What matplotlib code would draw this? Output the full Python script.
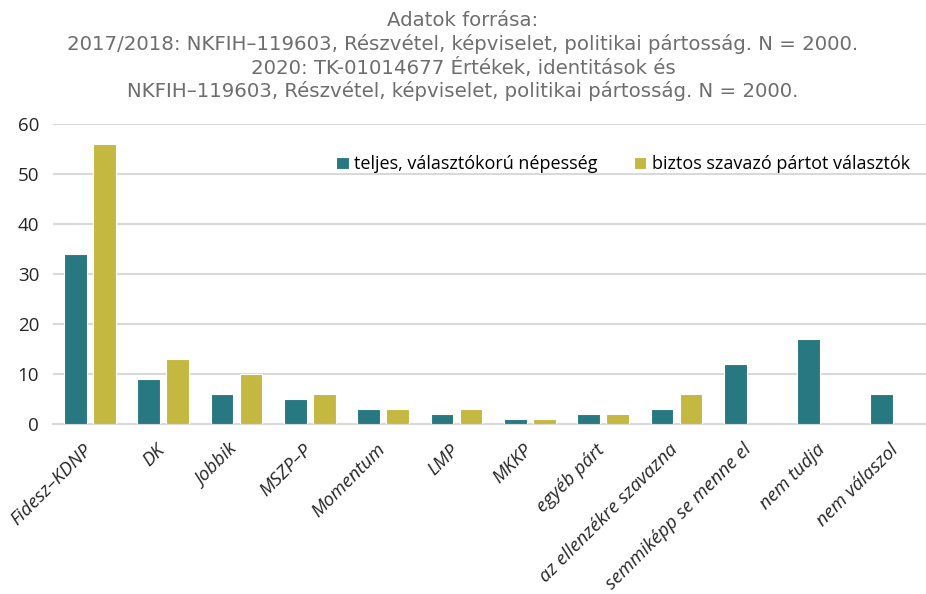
import numpy as np
from matplotlib import pyplot as plt

# Categories and shares (%)
categories = ['Fidesz–KDNP', 'DK', 'Jobbik', 'MSZP–P', 'Momentum', 'LMP', 'MKKP',
              'egyéb párt', 'az ellenzékre szavazna', 'semmiképp se menne el',
              'nem tudja', 'nem válaszol']
total_pop = [34, 9, 6, 5, 3, 2, 1, 2, 3, 12, 17, 6]
sure_voters = [56, 13, 10, 6, 3, 3, 1, 2, 6, 0, 0, 0]

title_lines = ['Adatok forrása:',
               '2017/2018: NKFIH–119603, Részvétel, képviselet, politikai pártosság. N = 2000.',
               '2020: TK-01014677 Értékek, identitások és',
               'NKFIH–119603, Részvétel, képviselet, politikai pártosság. N = 2000.']

teal = '#287882'
gold = '#C5B840'

fig = plt.figure(figsize=(9.26, 5.94), dpi=100)
ax = fig.add_axes([53 / 926, 1 - 424 / 594, 873 / 926, 300 / 594])

x = np.arange(len(categories))
width = 0.31
offset = 0.198

ax.bar(x - offset, total_pop, width=width, color=teal, edgecolor='white',
       linewidth=0.8, label='teljes, választókorú népesség', zorder=3)
# last three groups have no second bar
sv = np.array(sure_voters, dtype=float)
mask = sv > 0
ax.bar(x[mask] + offset, sv[mask], width=width, color=gold, edgecolor='white',
       linewidth=0.8, label='biztos szavazó pártot választók', zorder=3)

ax.set_xlim(-0.505, 11.405)
ax.set_ylim(0, 60)
ax.set_yticks(range(0, 61, 10))
ax.grid(axis='y', color='#d9d9d9', linewidth=1.5, zorder=0)
ax.set_axisbelow(True)
for s in ['top', 'right', 'left']:
    ax.spines[s].set_visible(False)
ax.spines['bottom'].set_color('#d9d9d9')
ax.spines['bottom'].set_linewidth(1.5)

ax.set_xticks(x - 0.1)
ax.set_xticklabels(categories, rotation=45, ha='right', va='top', rotation_mode='anchor',
                   fontstyle='italic', fontsize=13.5, color='#262626', family='Open Sans')
ax.tick_params(axis='x', length=0, pad=12)
ax.tick_params(axis='y', length=0, pad=10, labelsize=13.5, labelcolor='#262626')
for lbl in ax.get_yticklabels():
    lbl.set_family('Open Sans')

ax.legend(loc='upper right', bbox_to_anchor=(1.0, 0.95), ncol=2, frameon=False,
          handlelength=0.7, handleheight=0.7, handletextpad=0.3, columnspacing=2.0,
          prop={'family': 'Open Sans', 'size': 13})

for line, base in zip(title_lines, [26, 50, 74, 97]):
    fig.text(0.5, 1 - base / 594, line, ha='center', va='baseline',
             fontsize=14.2, color='#6e6e6e', family='DejaVu Sans')

fig.savefig('out.png', dpi=100)
